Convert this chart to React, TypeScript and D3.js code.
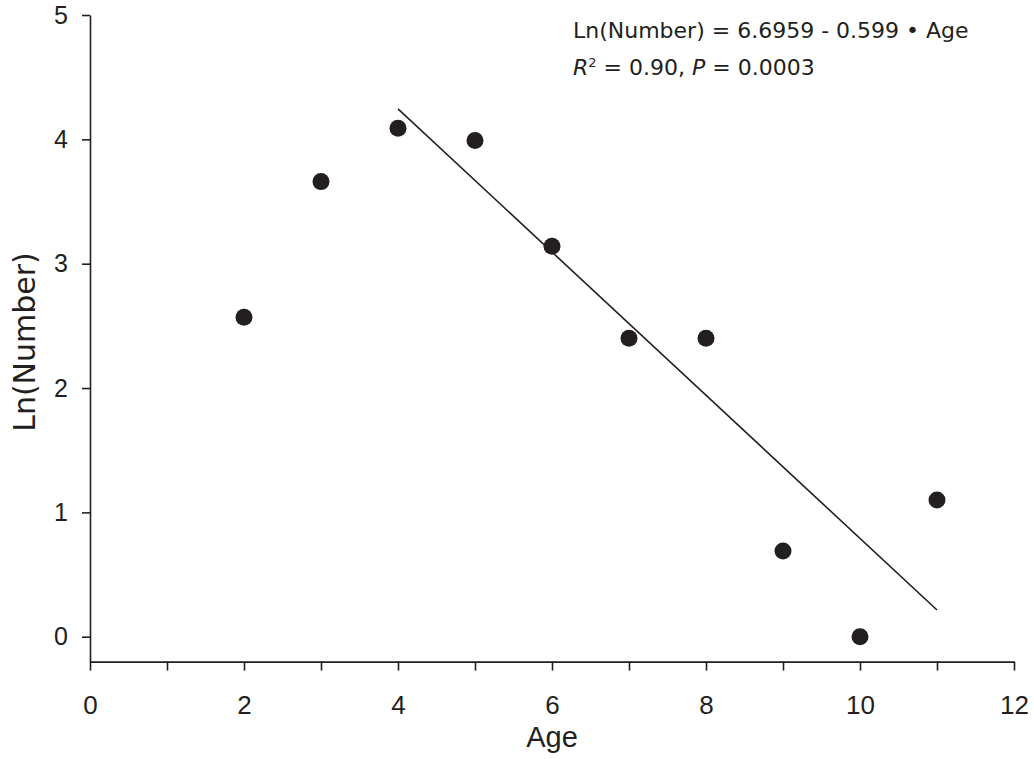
import * as d3 from "d3";
import { useEffect, useRef } from "react";

const ages = [2, 3, 4, 5, 6, 7, 8, 9, 10, 11];
const lnNumber = [2.57, 3.66, 4.09, 3.99, 3.14, 2.40, 2.40, 0.69, 0, 1.10];
const fitAges = [4, 11];
const fitValues = [4.245, 0.215];
const xTicks = [0, 1, 2, 3, 4, 5, 6, 7, 8, 9, 10, 11, 12];
const yTicks = [0, 1, 2, 3, 4, 5];

export default function App() {
  const ref = useRef<SVGSVGElement>(null);
  const ink = "#231f20";
  const family = "Liberation Sans, Arial, sans-serif";
  const wide = "DejaVu Sans, sans-serif";

  useEffect(() => {
    const svg = d3.select(ref.current);
    svg.selectAll("*").remove();

    const x = d3.scaleLinear().domain([0, 12]).range([90, 1014]);
    const y = d3.scaleLinear().domain([-0.2, 5]).range([661.6, 15]);

    // x axis
    const gx = svg.append("g").attr("transform", "translate(0," + y(-0.2) + ")")
      .call(d3.axisBottom(x).tickValues(xTicks).tickSizeOuter(0).tickSizeInner(9).tickPadding(25)
        .tickFormat((d: any) => (d % 2 === 0 ? String(d) : "")));
    gx.attr("font-size", 26).attr("font-family", family);
    gx.select(".domain").attr("stroke", ink).attr("stroke-width", 1.6);
    gx.selectAll(".tick line").attr("stroke", ink).attr("stroke-width", 1.6);
    gx.selectAll(".tick text").attr("fill", ink);

    // y axis
    const gy = svg.append("g").attr("transform", "translate(" + x(0) + ",0)")
      .call(d3.axisLeft(y).tickValues(yTicks).tickSizeOuter(0).tickSizeInner(8).tickPadding(14)
        .tickFormat(d3.format("d")));
    gy.attr("font-size", 25).attr("font-family", family);
    gy.select(".domain").attr("stroke", ink).attr("stroke-width", 1.6);
    gy.selectAll(".tick line").attr("stroke", ink).attr("stroke-width", 1.6);
    gy.selectAll(".tick text").attr("fill", ink);

    // axis titles
    svg.append("text").attr("x", 552).attr("y", 747)
      .attr("text-anchor", "middle").attr("font-size", 29).attr("font-family", family)
      .attr("fill", ink).text("Age");
    svg.append("text").attr("transform", "translate(35,342) rotate(-90)")
      .attr("text-anchor", "middle").attr("font-size", 30).attr("font-family", wide)
      .attr("fill", ink).text("Ln(Number)");

    // fit line
    const line = d3.line<number>().x((d, i) => x(fitAges[i])).y(d => y(d));
    svg.append("path").attr("d", line(fitValues)).attr("fill", "none")
      .attr("stroke", ink).attr("stroke-width", 1.6);

    // points
    svg.selectAll("circle.pt").data(ages).enter().append("circle")
      .attr("class", "pt")
      .attr("cx", d => x(d))
      .attr("cy", (d, i) => y(lnNumber[i]))
      .attr("r", 8.5)
      .attr("fill", ink);

    // equation text
    svg.append("text").attr("x", 573).attr("y", 38)
      .attr("font-size", 22).attr("font-family", wide).attr("fill", ink)
      .text("Ln(Number) = 6.6959 - 0.599 \u2022 Age");
    const t2 = svg.append("text").attr("x", 573).attr("y", 75)
      .attr("font-size", 22).attr("font-family", wide).attr("fill", ink);
    t2.append("tspan").attr("font-style", "italic").text("R");
    t2.append("tspan").attr("dy", -8).attr("font-size", 13).text("2");
    t2.append("tspan").attr("dy", 8).text(" = 0.90, ");
    t2.append("tspan").attr("font-style", "italic").text("P");
    t2.append("tspan").text(" = 0.0003");
  }, []);

  return (
    <svg ref={ref} width={1034} height={759}
      style={{ position: "absolute", left: 0, top: 0, background: "white" }} />
  );
}
